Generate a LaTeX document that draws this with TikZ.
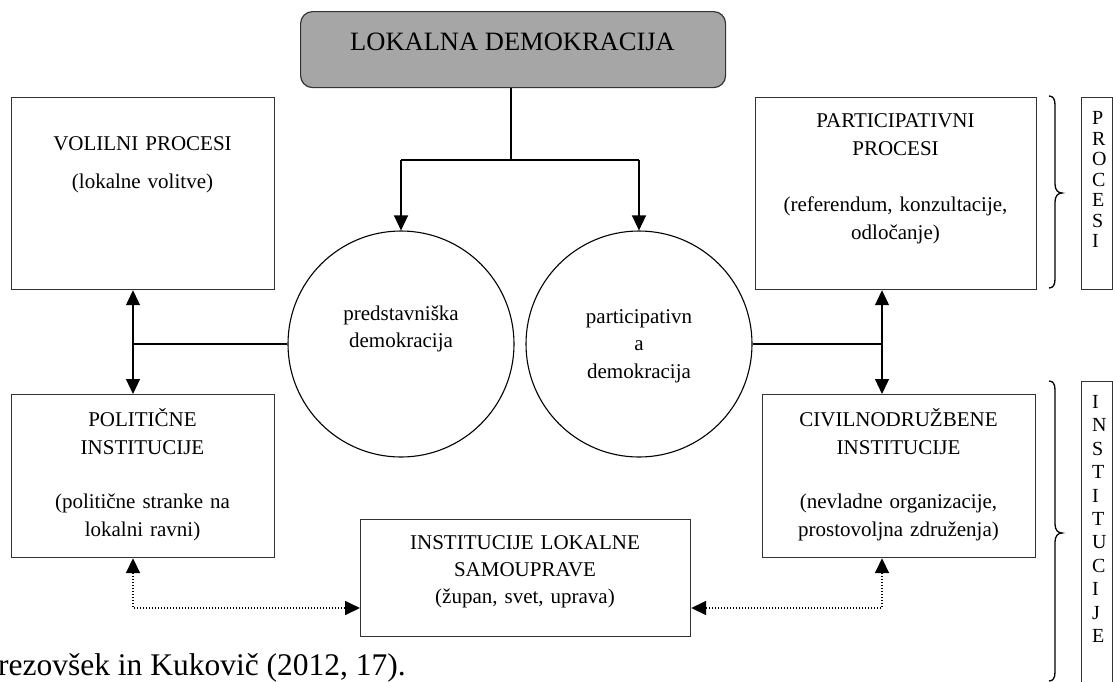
\documentclass[tikz,border=0pt]{standalone}
\usepackage{fontspec}
\setmainfont{Liberation Serif}
\usetikzlibrary{arrows.meta}
\definecolor{topfill}{HTML}{A6A6A6}
\definecolor{edge}{HTML}{333333}
\begin{document}
\begin{tikzpicture}[x=1pt,y=-1pt,
  box/.style={draw=edge, line width=1.2pt, inner sep=0pt, anchor=north west},
  circ/.style={draw=black, line width=1.1pt, circle, inner sep=0pt, minimum size=226pt},
  txt/.style={font=\fontsize{21}{28}\selectfont, align=center, text width=#1, inner sep=0pt, anchor=base},
  vtxt/.style={font=\fontsize{20}{#1}\selectfont, align=left, text width=20pt, inner sep=0pt, anchor=base west},
  plain/.style={line width=1.2pt, draw=black},
  arr/.style={plain, -{Triangle[length=15pt,width=14pt]}},
  darr/.style={plain, {Triangle[length=15pt,width=14pt]}-{Triangle[length=15pt,width=14pt]}},
  dotarr/.style={draw=black, line width=1.7pt, dash pattern=on 1.5pt off 1.5pt,
     {Triangle[length=15pt,width=14pt]}-{Triangle[length=15pt,width=14pt]}},
  bracepath/.style={draw=black, line width=1.3pt}
]
\useasboundingbox (0,0) rectangle (1113,681);
\clip (0,0) rectangle (1113,681);

% boxes
\node[box, fill=topfill, rounded corners=12pt, minimum width=425pt, minimum height=76pt] (top) at (300,11) {};
\node[box, minimum width=263pt, minimum height=192pt] (vol) at (11,97) {};
\node[box, minimum width=281pt, minimum height=192pt] (part) at (755,97) {};
\node[box, minimum width=263pt, minimum height=163pt] (pol) at (11,394) {};
\node[box, minimum width=273pt, minimum height=163pt] (civ) at (762,394) {};
\node[box, minimum width=330pt, minimum height=117pt] (sam) at (360,519) {};
\node[box, minimum width=31pt, minimum height=192pt] (procbox) at (1081,97) {};
\node[box, minimum width=31pt, minimum height=320pt] (instbox) at (1081,381) {};

% circles
\node[circ] (c1) at (401,344) {};
\node[circ] (c2) at (639,344) {};

% texts
\node[font=\fontsize{26.5}{30}\selectfont, anchor=base, inner sep=0pt] (toptxt) at (512.5,50) {LOKALNA DEMOKRACIJA};
\node[txt=250pt] (volt) at (142.5,150) {VOLILNI PROCESI\\[10pt](lokalne volitve)};
\node[txt=270pt] (partt) at (895.5,127) {PARTICIPATIVNI\\PROCESI\\[28pt](referendum, konzultacije,\\odločanje)};
\node[txt=250pt] (polt) at (142.5,426) {POLITIČNE\\INSTITUCIJE\\[26pt](politične stranke na\\lokalni ravni)};
\node[txt=265pt] (civt) at (898.5,426) {CIVILNODRUŽBENE\\INSTITUCIJE\\[26pt](nevladne organizacije,\\prostovoljna združenja)};
\node[txt=320pt, font=\fontsize{21}{27}\selectfont] (samt) at (525,549) {INSTITUCIJE LOKALNE\\SAMOUPRAVE\\(župan, svet, uprava)};
\node[txt=200pt, font=\fontsize{21}{27}\selectfont] (c1t) at (401,320) {predstavniška\\demokracija};
\node[txt=200pt, font=\fontsize{21}{27.5}\selectfont] (c2t) at (639,323) {participativn\\a\\demokracija};
\node[font=\fontsize{31.5}{34}\selectfont, anchor=base east, inner sep=0pt] (caption) at (406,675) {Brezovšek in Kukovič (2012, 17).};

\begin{scope}
  \clip (procbox.north west) rectangle (procbox.south east);
  \node[vtxt=20.5pt] (proct) at (1092,124.5) {P\\R\\O\\C\\E\\S\\I};
\end{scope}
\begin{scope}
  \clip (instbox.north west) rectangle (instbox.south east);
  \node[vtxt=23.4pt] (instt) at (1092,408.5) {I\\N\\S\\T\\I\\T\\U\\C\\I\\J\\E};
\end{scope}

% connectors
\coordinate (split) at (511,160);
\coordinate (lx) at (133,0);
\coordinate (rx) at (882,0);
\coordinate (dy) at (0,608);

\draw[plain] (top.south -| split) -- (split);
\draw[plain] (c1.north |- split) -- (c2.north |- split);
\draw[arr] (c1.north |- split) -- (c1.north);
\draw[arr] (c2.north |- split) -- (c2.north);

\draw[darr] (vol.south -| lx) -- (pol.north -| lx);
\draw[plain] (c1.west) -- (c1.west -| lx);
\draw[darr] (part.south -| rx) -- (civ.north -| rx);
\draw[plain] (c2.east) -- (c2.east -| rx);

\draw[dotarr] (pol.south -| lx) |- (sam.west |- dy);
\draw[dotarr] (civ.south -| rx) |- (sam.east |- dy);

% braces
\draw[bracepath] (1049,96) .. controls (1053,96) and (1055,99) .. (1055,105) -- (1055,184)
  .. controls (1055,190) and (1058,193) .. (1062,193)
  .. controls (1058,193) and (1055,196) .. (1055,202) -- (1055,279)
  .. controls (1055,285) and (1053,288) .. (1049,288);
\draw[bracepath] (1049,381) .. controls (1053,381) and (1055,384) .. (1055,390) -- (1055,524)
  .. controls (1055,530) and (1058,533) .. (1062,533)
  .. controls (1058,533) and (1055,536) .. (1055,542) -- (1055,672)
  .. controls (1055,678) and (1053,681) .. (1049,681);
\end{tikzpicture}
\end{document}
